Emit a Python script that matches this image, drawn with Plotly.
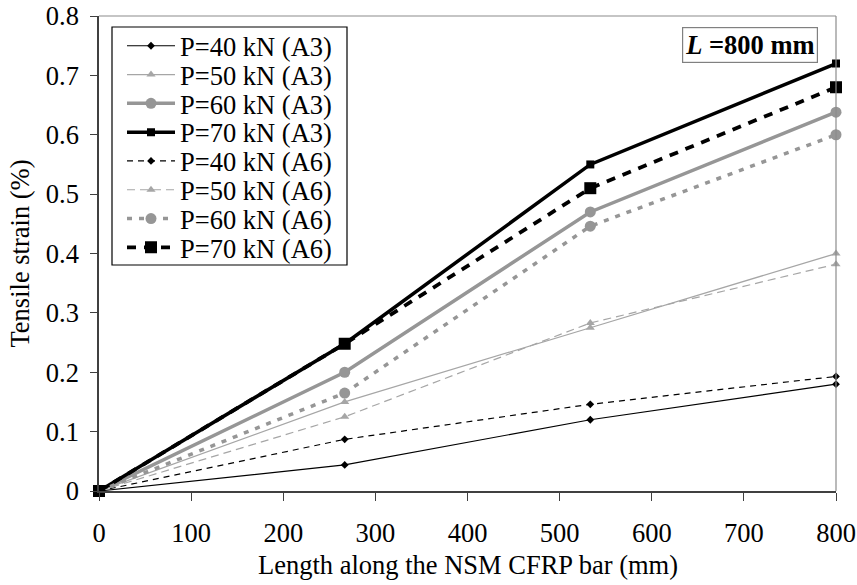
import plotly.graph_objects as go

# Gauge positions along the bar (mm)
length_mm = [0, 266.7, 533.3, 800]

# Tensile strain (%) for each load level and specimen
p40_a3 = [0, 0.044, 0.120, 0.180]
p50_a3 = [0, 0.150, 0.275, 0.400]
p60_a3 = [0, 0.200, 0.470, 0.638]
p70_a3 = [0, 0.248, 0.550, 0.720]
p40_a6 = [0, 0.087, 0.146, 0.193]
p50_a6 = [0, 0.125, 0.283, 0.382]
p60_a6 = [0, 0.165, 0.446, 0.600]
p70_a6 = [0, 0.248, 0.510, 0.680]

x_ticks = [0, 100, 200, 300, 400, 500, 600, 700, 800]
y_ticks = [0, 0.1, 0.2, 0.3, 0.4, 0.5, 0.6, 0.7, 0.8]

GREY = "#969696"
LIGHT = "#a6a6a6"
FONT = "Times New Roman, Liberation Serif, DejaVu Serif, serif"
SIZE = 26.5

W, H = 857, 585
ML, MR, MT, MB = 99, 21, 16, 94

series = [
    ("P=40 kN (A3)", p40_a3, "black", 1.2, "solid", "diamond", 6),
    ("P=50 kN (A3)", p50_a3, LIGHT, 1.2, "solid", "triangle-up", 8),
    ("P=60 kN (A3)", p60_a3, GREY, 3.5, "solid", "circle", 11),
    ("P=70 kN (A3)", p70_a3, "black", 3.5, "solid", "square", 8),
    ("P=40 kN (A6)", p40_a6, "black", 1.2, "6px,5px", "diamond", 6),
    ("P=50 kN (A6)", p50_a6, LIGHT, 1.2, "8px,5px", "triangle-up", 8),
    ("P=60 kN (A6)", p60_a6, GREY, 3.5, "5px,7px", "circle", 11),
    ("P=70 kN (A6)", p70_a6, "black", 3.8, "9px,8px", "square", 12),
]

serif = dict(family=FONT, size=SIZE, color="black")

# Each entry gets its own one-item legend so rows can sit tightly together
ROW0, ROW_STEP = 46, 28.8
LEG_X = 122

fig = go.Figure()
legends = {}
for i, (name, vals, color, width, dash, symbol, size) in enumerate(series):
    key = "legend" if i == 0 else f"legend{i + 1}"
    fig.add_trace(go.Scatter(
        x=length_mm, y=vals, name=name, mode="lines+markers",
        line=dict(color=color, width=width, dash=dash),
        marker=dict(color=color, symbol=symbol, size=size, line=dict(width=0)),
        cliponaxis=False, legend=key,
    ))
    row_y = ROW0 + i * ROW_STEP
    legends[key] = dict(
        xref="container", yref="container",
        x=LEG_X / W, y=1 - row_y / H, xanchor="left", yanchor="middle",
        bgcolor="rgba(0,0,0,0)", borderwidth=0,
        font=serif, itemwidth=48,
    )

def px_x(p):
    return (p - ML) / (W - ML - MR)

def px_y(p):
    return (H - MB - p) / (H - MT - MB)

fig.update_layout(
    width=W, height=H,
    margin=dict(l=ML, r=MR, t=MT, b=MB, autoexpand=False),
    paper_bgcolor="white", plot_bgcolor="white",
    font=serif,
    showlegend=True,
    xaxis=dict(
        range=[0, 800], tickvals=x_ticks, ticktext=[str(v) for v in x_ticks],
        tickfont=serif, ticklabelstandoff=9,
        showgrid=False, zeroline=False, showline=True, linecolor="#404040",
        linewidth=1.5, ticks="outside", ticklen=8, tickcolor="#404040",
    ),
    yaxis=dict(
        range=[0, 0.8], tickvals=y_ticks, ticktext=[f"{v:g}" for v in y_ticks],
        tickfont=serif, ticklabelstandoff=6,
        showgrid=False, zeroline=False, showline=True, linecolor="#404040",
        linewidth=1.5, ticks="outside", ticklen=7, tickcolor="#404040",
    ),
    shapes=[
        dict(type="line", xref="x domain", yref="y domain", x0=0, x1=1, y0=1, y1=1,
             line=dict(color="#8c8c8c", width=1.2)),
        dict(type="line", xref="x domain", yref="y domain", x0=1, x1=1, y0=0, y1=1,
             line=dict(color="#8c8c8c", width=1.2)),
        dict(type="rect", xref="paper", yref="paper",
             x0=px_x(112), x1=px_x(347), y0=px_y(265), y1=px_y(27),
             line=dict(color="black", width=1.2), fillcolor="white", layer="above"),
    ],
    annotations=[
        dict(text="<b><i>L</i> =800 mm</b>", xref="x domain", yref="y domain",
             x=px_x(818), y=px_y(27), xanchor="right", yanchor="top", showarrow=False,
             font=serif, bordercolor="#808080", borderwidth=1.2, borderpad=2,
             bgcolor="white"),
        # axis titles
        dict(text="Length along the NSM CFRP bar (mm)", xref="paper", yref="paper",
             x=0.5, y=px_y(565), xanchor="center", yanchor="middle",
             showarrow=False, font=serif),
        dict(text="Tensile strain (%)", xref="paper", yref="paper",
             x=px_x(19), y=0.5, xanchor="center", yanchor="middle", textangle=-90,
             showarrow=False, font=serif),
    ],
    **legends,
)

fig.write_html("out.html")
